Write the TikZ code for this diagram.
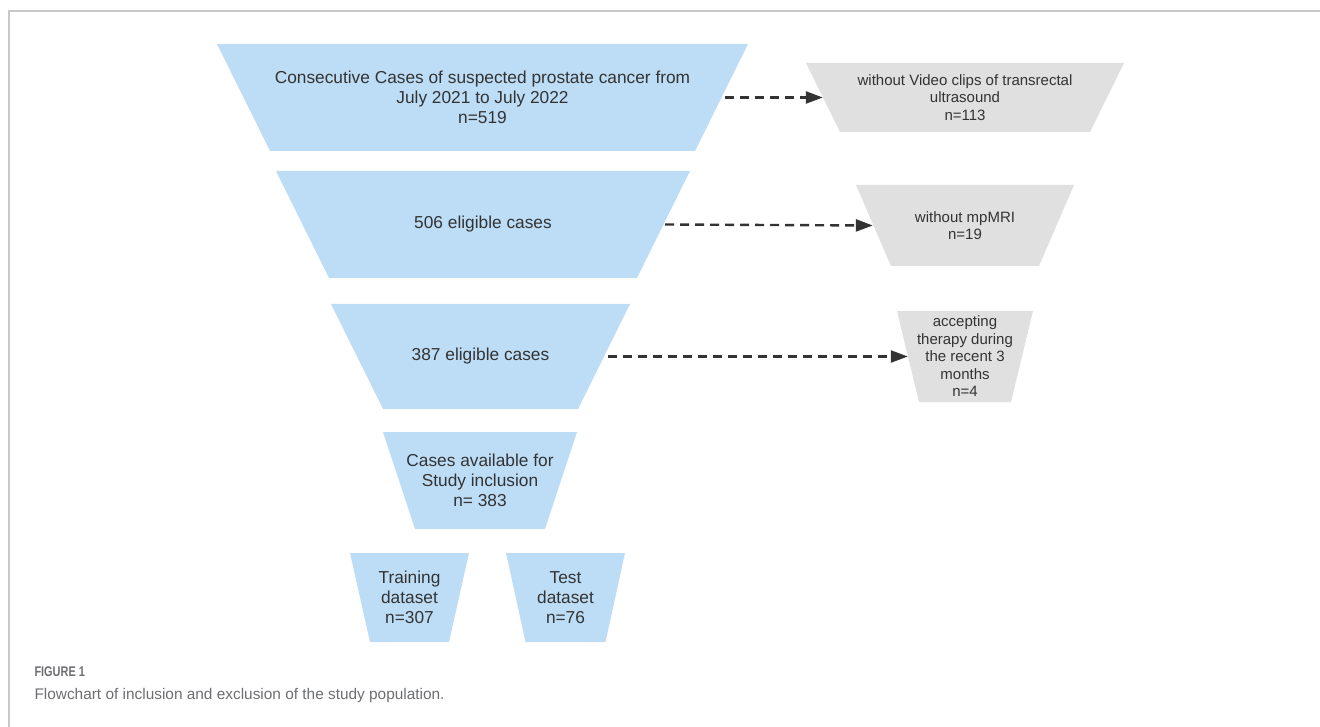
\documentclass[tikz,border=0pt]{standalone}
\usepackage{fontspec}
\setmainfont{Liberation Sans}
\usetikzlibrary{arrows.meta}
\definecolor{funnelblue}{HTML}{BDDDF7}
\definecolor{dropgrey}{HTML}{E0E0E0}
\definecolor{textdark}{HTML}{333333}
\definecolor{framegrey}{HTML}{C8C8C8}
\definecolor{captiongrey}{HTML}{6D6E71}

\begin{document}
\begin{tikzpicture}[x=1pt, y=-1pt,
    trap/.style 2 args={rectangle, inner sep=0pt, fill=white, text=textdark, align=center,
        path picture={\fill[#2] (path picture bounding box.north west)
            -- (path picture bounding box.north east)
            -- ([xshift=-#1pt]path picture bounding box.south east)
            -- ([xshift=#1pt]path picture bounding box.south west) -- cycle;}},
    funnel/.style={trap={#1}{funnelblue}, font=\fontsize{17.3}{19.8}\selectfont},
    dropped/.style={trap={#1}{dropgrey}, font=\fontsize{15}{17.5}\selectfont},
    exclude/.style={-{Triangle[length=17pt, width=12pt]}, draw=textdark,
        line width=2.4pt, dash pattern=on 9pt off 6pt}]
    \useasboundingbox (0,0) rectangle (1320,727);

    % Frame of the figure
    \draw[framegrey, line width=1.2pt] (9,727) -- (9,11) -- (1320,11);

    % Funnel of included cases
    \node[funnel=53, minimum width=531pt, minimum height=107pt]
        (cases) at (482.5,97.5) {Consecutive Cases of suspected prostate cancer from\\July 2021 to July 2022\\n=519};
    \node[funnel=53, minimum width=414pt, minimum height=107pt]
        (eligA) at (483,224.5) {506 eligible cases};
    \node[funnel=52, minimum width=299pt, minimum height=105pt]
        (eligB) at (480.5,356.5) {387 eligible cases};
    \node[funnel=32, minimum width=194pt, minimum height=97pt]
        (study) at (480,480.5) {Cases available for\\Study inclusion\\n= 383};
    \node[funnel=20, minimum width=119pt, minimum height=89pt]
        (train) at (409.5,597.5) {Training\\dataset\\n=307};
    \node[funnel=19.5, minimum width=119pt, minimum height=89pt]
        (test) at (565.5,597.5) {Test\\dataset\\n=76};

    % Excluded cases
    \node[dropped=34, minimum width=318pt, minimum height=69pt]
        (novideo) at (965,97.5) {without Video clips of transrectal\\ultrasound\\n=113};
    \node[dropped=35, minimum width=218pt, minimum height=81pt]
        (nomri) at (965,225.5) {without mpMRI\\n=19};
    \node[dropped=22, minimum width=136pt, minimum height=91pt]
        (therapy) at (965,356.5) {accepting\\therapy during\\the recent 3\\months\\n=4};

    \foreach \src/\dst/\a/\b in {cases/novideo/23/17, eligA/nomri/25/17, eligB/therapy/22/11} {
        \draw[exclude] ([xshift=-\a pt]\src.east) -- ([xshift=\b pt]\dst.west);
    }

    % Caption
    \node[anchor=base west, text=captiongrey, font=\fontsize{14}{16}\selectfont\bfseries]
        (figlabel) at (31,676) {\scalebox{0.78}[1]{FIGURE 1}};
    \node[anchor=base west, text=captiongrey, font=\fontsize{15.4}{18}\selectfont]
        (figcaption) at (31,699) {Flowchart of inclusion and exclusion of the study population.};
\end{tikzpicture}
\end{document}
